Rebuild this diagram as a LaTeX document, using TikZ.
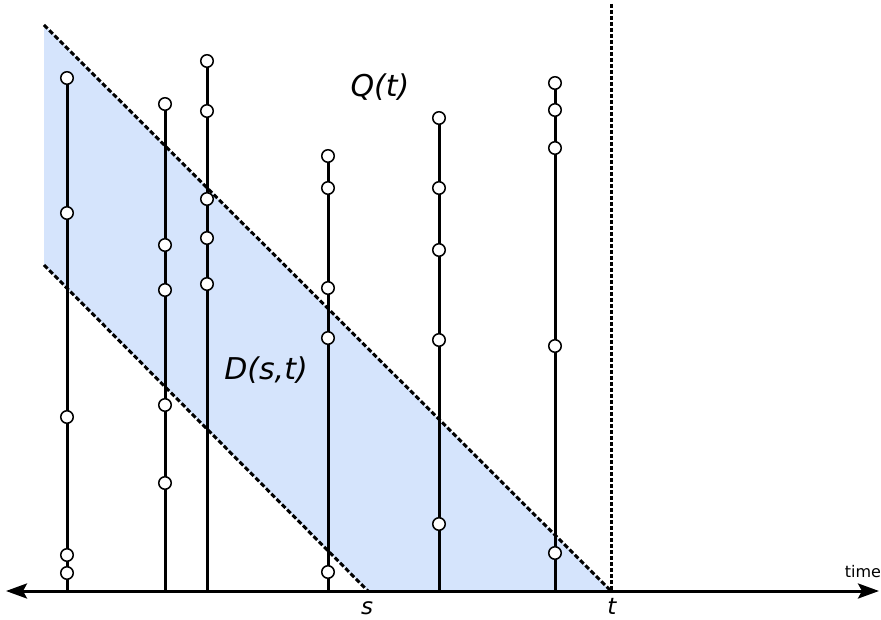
\documentclass[tikz,border=0pt]{standalone}
\usepackage{fontspec}
\setmainfont{DejaVu Sans}
\usetikzlibrary{arrows.meta,backgrounds}
\definecolor{regionblue}{HTML}{D5E4FC}
\begin{document}
\begin{tikzpicture}[x=1pt,y=-1pt,
  ev/.style={circle,draw=black,fill=white,line width=1.5pt,inner sep=0pt,minimum size=12.5pt},
  evline/.style={line width=3pt},
  bound/.style={line width=3pt,dash pattern=on 5pt off 2.5pt},
  nowline/.style={line width=3pt,dash pattern=on 4pt off 2pt},
  axisline/.style={line width=3pt,{Stealth[length=21pt,width=15pt,inset=4pt]}-{Stealth[length=21pt,width=15pt,inset=4pt]}},
  biglbl/.style={font=\fontsize{30}{32}\selectfont\itshape,inner sep=0pt},
  smalllbl/.style={font=\fontsize{23}{25}\selectfont\itshape,inner sep=0pt},
  timelbl/.style={font=\fontsize{16}{18}\selectfont,inner sep=0pt}]
\useasboundingbox (0,0) rectangle (881,620);

% key points
\coordinate (axL) at (6,591);
\coordinate (axR) at (879,591);
\coordinate (tpt) at (611,591);
\coordinate (spt) at (368,591);
\coordinate (ttop) at (611,4);
\coordinate (upA) at (44,25);
\coordinate (loA) at (44,265);

% event nodes
\foreach \n/\x/\y in {
  a1/67/78, a2/67/213, a3/67/417, a4/67/555, a5/67/573,
  b1/165/104, b2/165/245, b3/165/290, b4/165/405, b5/165/483,
  c1/207/61, c2/207/111, c3/207/199, c4/207/238, c5/207/284,
  d1/328/156, d2/328/188, d3/328/288, d4/328/338, d5/328/572,
  e1/439/118, e2/439/188, e3/439/250, e4/439/340, e5/439/524,
  f1/555/83, f2/555/110, f3/555/148, f4/555/346, f5/555/553}
  \node[ev] (\n) at (\x,\y) {};

\foreach \n/\x in {a/67, b/165, c/207, d/328, e/439, f/555}
  \coordinate (\n0) at (\x,591);

\begin{scope}[on background layer]
  \fill[regionblue] (upA) -- (tpt) -- (spt) -- (loA) -- cycle;
  \foreach \n in {a,b,c,d,e,f}
    \draw[evline] (\n0) -- (\n1.center);
  \draw[bound] (upA) -- (tpt);
  \draw[bound] (loA) -- (spt);
  \draw[nowline] (ttop) -- (tpt);
  \draw[axisline] (axL) -- (axR);
\end{scope}

% labels
\node[biglbl] (Q) at (380,87) {Q(t)};
\node[biglbl] (D) at (266,370) {D(s,t)};
\node[smalllbl,anchor=base] (slbl) at (367,614) {s};
\node[smalllbl,anchor=base] (tlbl) at (612,614) {t};
\node[timelbl,anchor=base] (time) at (863,577) {time};
\end{tikzpicture}
\end{document}
